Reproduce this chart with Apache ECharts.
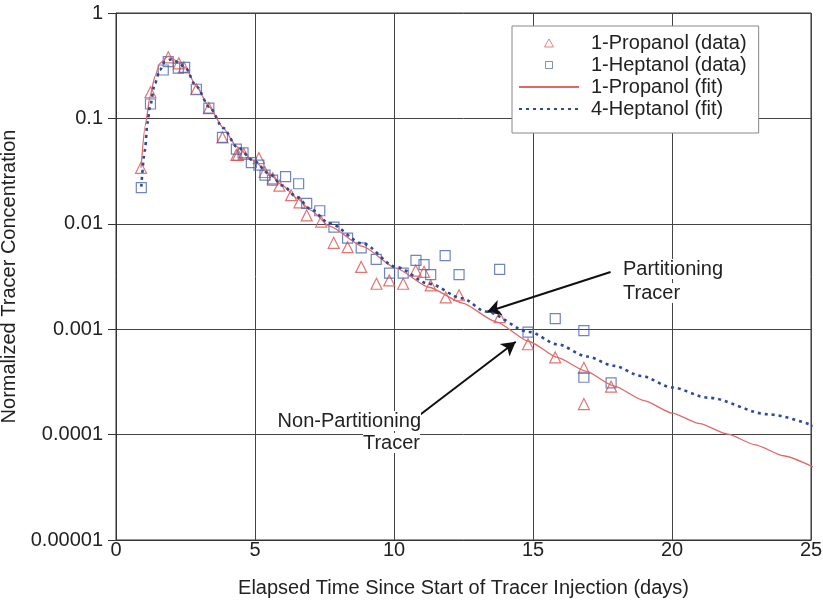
<!DOCTYPE html>
<html><head><meta charset="utf-8">
<script src="https://cdn.jsdelivr.net/npm/echarts@6/dist/echarts.min.js"></script>
<style>html,body{margin:0;padding:0;background:#fff}#c{width:823px;height:604px}</style>
</head><body><div id="c"></div>
<script>
const xTicks = [0, 5, 10, 15, 20, 25];
const yTickLabels = ['0.00001', '0.0001', '0.001', '0.01', '0.1', '1'];
const seriesNames = ['1-Propanol (data)', '1-Heptanol (data)', '1-Propanol (fit)', '4-Heptanol (fit)'];

const propanolX = [0.9, 1.24, 1.88, 2.26, 2.44, 2.89, 3.34, 3.83, 4.33, 4.39, 4.6, 5.14, 5.35, 5.64, 5.88, 6.3, 6.6, 6.86, 7.38, 7.83, 8.33, 8.82, 9.37, 9.83, 10.33, 10.78, 11.08, 11.32, 11.86, 12.34, 13.8, 14.82, 15.8, 16.83, 16.83, 17.81];
const propanolY = [0.034, 0.177, 0.38, 0.333, 0.305, 0.189, 0.125, 0.066, 0.045, 0.045, 0.046, 0.042, 0.031, 0.027, 0.023, 0.0187, 0.016, 0.012, 0.0105, 0.0066, 0.006, 0.0039, 0.0027, 0.0029, 0.0027, 0.0036, 0.0035, 0.0026, 0.002, 0.0021, 0.0013, 0.00072, 0.00054, 0.00043, 0.000195, 0.000285];

const heptanolX = [0.91, 1.24, 1.7, 1.88, 2.24, 2.47, 2.89, 3.34, 3.83, 4.33, 4.57, 4.87, 5.14, 5.36, 5.63, 6.1, 6.57, 6.86, 7.33, 7.84, 8.33, 8.82, 9.36, 9.84, 10.33, 10.79, 11.08, 11.32, 11.84, 12.34, 13.8, 14.82, 15.8, 16.83, 16.83, 17.81];
const heptanolY = [0.022, 0.137, 0.288, 0.345, 0.30, 0.305, 0.189, 0.125, 0.066, 0.051, 0.047, 0.038, 0.036, 0.029, 0.026, 0.028, 0.024, 0.0156, 0.0133, 0.0093, 0.0073, 0.0059, 0.0046, 0.0034, 0.0034, 0.0045, 0.0041, 0.0033, 0.005, 0.0033, 0.0037, 0.00094, 0.00126, 0.00097, 0.00035, 0.00031];

const propFitX = [0.9, 1.05, 1.22, 1.4, 1.58, 1.88, 2.24, 2.48, 2.9, 3.35, 3.86, 4.34, 4.94, 5.5, 6.0, 6.5, 7.0, 7.68, 8.87, 10.07, 11.26, 12.46, 13.66, 14.88, 15.87, 16.9, 17.9, 19.0, 20.0, 21.0, 22.0, 23.0, 24.0, 25.1];
const propFitY = [0.034, 0.085, 0.16, 0.25, 0.333, 0.39, 0.345, 0.305, 0.2, 0.129, 0.081, 0.054, 0.04, 0.03, 0.023, 0.0175, 0.0135, 0.0095, 0.0061, 0.0038, 0.0025, 0.00177, 0.00118, 0.00076, 0.00054, 0.0004, 0.00029, 0.00021, 0.00016, 0.000127, 0.000101, 0.00008, 0.000063, 0.000049];

const heptFitX = [0.91, 1.04, 1.13, 1.22, 1.4, 1.58, 1.76, 2.0, 2.24, 2.48, 2.9, 3.35, 3.86, 4.34, 4.94, 5.5, 6.0, 6.5, 7.0, 7.68, 8.87, 10.07, 11.26, 12.46, 13.3, 14.88, 15.87, 16.95, 17.9, 18.9, 20.0, 21.3, 23.45, 25.15];
const heptFitY = [0.0225, 0.05, 0.09, 0.129, 0.215, 0.288, 0.345, 0.364, 0.34, 0.305, 0.2, 0.129, 0.081, 0.054, 0.04, 0.03, 0.023, 0.018, 0.0138, 0.0101, 0.0065, 0.0039, 0.0027, 0.00196, 0.00147, 0.00094, 0.00072, 0.00055, 0.00045, 0.00036, 0.00028, 0.000224, 0.000156, 0.00012];

// annotation arrows: [fromX, fromY, toX, toY] in data units
const arrowPartitioning = [17.79, 0.00349, 13.34, 0.001456];
const arrowNonPartitioning = [10.83, 0.000147, 14.38, 0.00076];

const zip = (xs, ys) => xs.map((x, i) => [x, ys[i]]);
const FONT = "'Liberation Sans', Arial, sans-serif";
const TXT = '#222';
// legend glyphs drawn inside the 60x9 legend icon box (invisible moveTo corners keep the box size)
const legendTriangle = 'path://M0,0M60,9M25.5,8.5L30,0.5L34.5,8.5Z';
const legendSquare = 'path://M0,0M60,9M26.5,1L33.5,1L33.5,8L26.5,8Z';

const chart = echarts.init(document.getElementById('c'), null, {renderer: 'canvas'});
chart.setOption({
  animation: false,
  backgroundColor: '#fff',
  grid: {left: 116, right: 12, top: 13, bottom: 64, containLabel: false, outerBoundsMode: 'none',
    show: true, borderColor: '#333', borderWidth: 1, backgroundColor: 'transparent'},
  xAxis: {
    type: 'value', min: xTicks[0], max: xTicks[xTicks.length - 1], interval: 5,
    name: 'Elapsed Time Since Start of Tracer Injection (days)',
    nameLocation: 'middle', nameGap: 38,
    nameTextStyle: {fontSize: 20, color: TXT, fontFamily: FONT},
    axisLine: {lineStyle: {color: '#333', width: 1}},
    axisTick: {show: false},
    axisLabel: {fontSize: 20, color: TXT, fontFamily: FONT, margin: 0,
      formatter: v => xTicks.includes(v) ? String(v) : ''},
    splitLine: {show: true, lineStyle: {color: '#444', width: 1}}
  },
  yAxis: {
    type: 'log', logBase: 10, min: 0.00001, max: 1,
    name: 'Normalized Tracer Concentration',
    nameLocation: 'middle', nameGap: 86, nameRotate: 90,
    nameTextStyle: {fontSize: 20, color: TXT, fontFamily: FONT},
    axisLine: {show: true, lineStyle: {color: '#333', width: 1}},
    axisTick: {show: true, length: 8, lineStyle: {color: '#333'}},
    minorTick: {show: false},
    axisLabel: {fontSize: 20, color: TXT, fontFamily: FONT, margin: 13,
      formatter: v => {
        const k = Math.round(Math.log10(v)) + 5;
        return yTickLabels[k] !== undefined ? yTickLabels[k] : '';
      }},
    splitLine: {show: true, lineStyle: {color: '#444', width: 1}}
  },
  legend: {
    orient: 'vertical', left: 512, top: 26,
    data: [
      {name: seriesNames[0], icon: legendTriangle, itemStyle: {borderWidth: 0.9}},
      {name: seriesNames[1], icon: legendSquare, itemStyle: {borderWidth: 0.9}},
      {name: seriesNames[2], itemStyle: {opacity: 0}},
      {name: seriesNames[3], itemStyle: {opacity: 0}}
    ],
    itemWidth: 60, itemHeight: 9, itemGap: 2,
    padding: [7, 12, 14, 6],
    backgroundColor: '#fff', borderColor: '#888', borderWidth: 1,
    textStyle: {fontSize: 20, color: TXT, fontFamily: FONT, padding: [0, 0, 0, 7]}
  },
  series: [
    {
      name: seriesNames[0], type: 'scatter', symbol: 'triangle', symbolSize: 11,
      data: zip(propanolX, propanolY), z: 3,
      itemStyle: {color: 'rgba(255,255,255,0)', borderColor: '#d9534f', borderWidth: 1.2}
    },
    {
      name: seriesNames[1], type: 'scatter', symbol: 'rect', symbolSize: 10,
      data: zip(heptanolX, heptanolY), z: 3,
      itemStyle: {color: 'rgba(255,255,255,0)', borderColor: '#4a67ad', borderWidth: 1.2}
    },
    {
      name: seriesNames[2], type: 'line', showSymbol: false, symbol: 'none',
      smooth: 0.2, smoothMonotone: 'x', clip: false,
      data: zip(propFitX, propFitY), z: 4,
      lineStyle: {color: '#e06868', width: 1.3},
      itemStyle: {color: '#e06868'},
      markLine: {
        silent: true, symbol: ['none', 'arrow'], symbolSize: [12, 14],
        label: {show: false},
        lineStyle: {color: '#111', width: 2, type: 'solid'},
        data: [
          [{coord: [arrowPartitioning[0], arrowPartitioning[1]]}, {coord: [arrowPartitioning[2], arrowPartitioning[3]]}],
          [{coord: [arrowNonPartitioning[0], arrowNonPartitioning[1]]}, {coord: [arrowNonPartitioning[2], arrowNonPartitioning[3]]}]
        ]
      }
    },
    {
      name: seriesNames[3], type: 'line', showSymbol: false, symbol: 'none',
      smooth: 0.3, smoothMonotone: 'x', clip: false,
      data: zip(heptFitX, heptFitY), z: 5,
      lineStyle: {color: '#2b4a99', width: 2.6, type: [3, 4]},
      itemStyle: {color: '#2b4a99'}
    }
  ],
  graphic: [
    {type: 'text', x: 623, y: 269, z: 10, style: {text: 'Partitioning', font: '20px ' + FONT, fill: TXT, align: 'left', verticalAlign: 'middle', backgroundColor: '#fff'}},
    {type: 'text', x: 623, y: 293, z: 10, style: {text: 'Tracer', font: '20px ' + FONT, fill: TXT, align: 'left', verticalAlign: 'middle', backgroundColor: '#fff'}},
    {type: 'text', x: 421, y: 421, z: 10, style: {text: 'Non-Partitioning', font: '20px ' + FONT, fill: TXT, align: 'right', verticalAlign: 'middle', backgroundColor: '#fff'}},
    {type: 'text', x: 420, y: 443, z: 10, style: {text: 'Tracer', font: '20px ' + FONT, fill: TXT, align: 'right', verticalAlign: 'middle', backgroundColor: '#fff'}}
  ]
});
</script>
</body></html>
